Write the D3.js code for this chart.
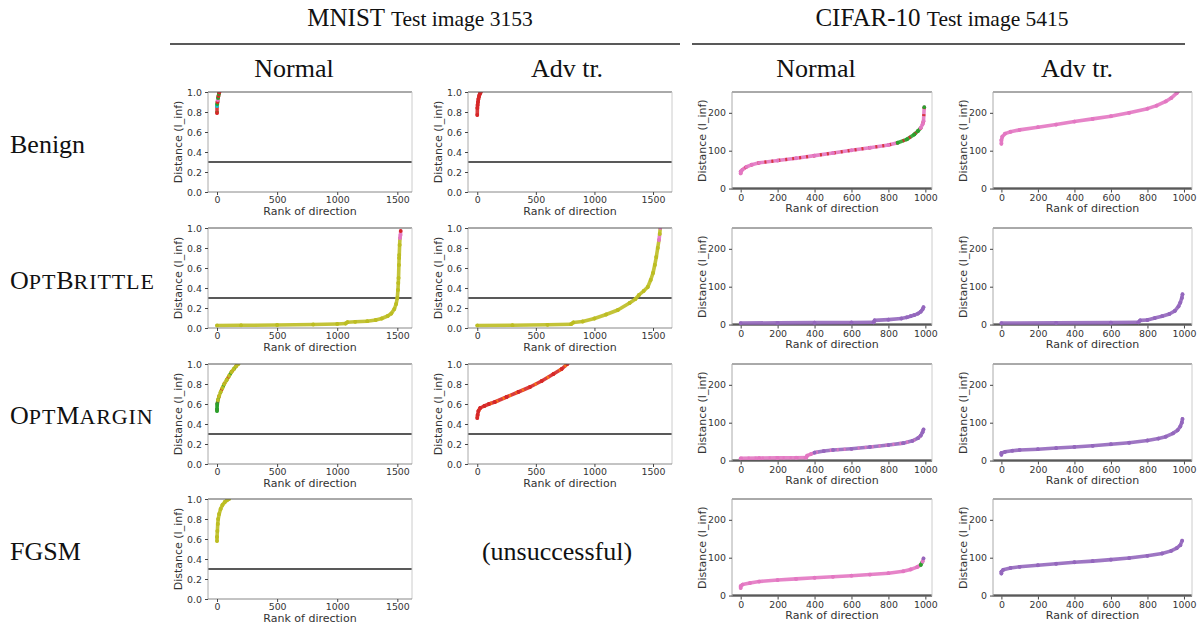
<!DOCTYPE html>
<html><head><meta charset="utf-8">
<script src="https://cdn.jsdelivr.net/npm/d3@7"></script>
<style>body{margin:0;background:#fff} svg{display:block}</style>
</head><body><svg id="c" width="1197" height="623"></svg>
<script>
// ---------- DATA ----------
const datasetNames = ["MNIST", "CIFAR-10"];
const datasetImages = ["Test image 3153", "Test image 5415"];
const trainings = ["Normal", "Adv tr."];
const attacks = ["Benign", "OptBrittle", "OptMargin", "FGSM"];
const unsuccessfulText = "(unsuccessful)";
const yLabel = "Distance (l_inf)";
const xLabel = "Rank of direction";

const mnistYTicks = [0, 0.2, 0.4, 0.6, 0.8, 1.0];
const mnistXTicks = [0, 500, 1000, 1500];
const cifarYTicks = [0, 100, 200];
const cifarXTicks = [0, 200, 400, 600, 800, 1000];
const mnistYDomain = [0, 1];
const cifarYDomain = [-2.5, 255];
const mnistNormalXDomain = [-75, 1622];
const mnistAdvXDomain = [-79, 1662];
const cifarNormalXDomain = [-47, 1036];
const cifarAdvXDomain = [-46, 1044];
const mnistThreshold = 0.3;
const cifarThreshold = 1;

// points: [rank, distance, class index (tab10)]
const mnistNormalBenign = [[0,0.79,3],[0,0.86,9],[2,0.88,2],[4,0.9,3],[6,0.92,6],[9,0.94,2],[12,0.96,3],[15,0.98,2],[18,0.995,3],[20,1.0,3]];
const mnistAdvBenign = [[0,0.77,3],[1,0.84,3],[3,0.87,3],[6,0.9,3],[10,0.93,3],[15,0.955,3],[20,0.975,3],[26,0.99,3],[30,1.0,3]];
const mnistNormalOptBrittle = [[0,0.025,8],[200,0.027,8],[500,0.03,8],[800,0.035,8],[1000,0.04,8],[1070,0.045,8],[1085,0.058,8],[1150,0.062,8],[1250,0.068,8],[1320,0.08,8],[1370,0.095,8],[1420,0.12,8],[1450,0.145,8],[1475,0.19,8],[1490,0.24,8],[1500,0.3,8],[1505,0.38,8],[1508,0.45,8],[1510,0.5,8],[1513,0.63,8],[1515,0.7,8],[1516,0.73,8],[1519,0.83,8],[1522,0.9,6],[1526,0.93,6],[1528,0.97,3]];
const mnistAdvOptBrittle = [[0,0.025,8],[300,0.028,8],[600,0.032,8],[800,0.038,8],[820,0.055,8],[900,0.065,8],[1000,0.095,8],[1100,0.135,8],[1200,0.18,8],[1300,0.25,8],[1350,0.29,8],[1380,0.33,8],[1420,0.37,8],[1455,0.41,8],[1480,0.48,8],[1500,0.55,8],[1515,0.63,8],[1528,0.71,8],[1540,0.8,8],[1551,0.88,6],[1557,0.94,8],[1562,1.0,6]];
const mnistNormalOptMargin = [[0,0.53,2],[0,0.55,2],[2,0.6,2],[8,0.64,8],[18,0.68,8],[30,0.72,8],[45,0.76,8],[60,0.8,8],[80,0.84,8],[100,0.88,8],[120,0.92,8],[140,0.95,8],[160,0.98,8],[178,1.0,8]];
const mnistAdvOptMargin = [[0,0.46,3],[3,0.49,3],[10,0.53,3],[25,0.56,3],[60,0.58,3],[100,0.6,3],[150,0.62,3],[250,0.67,3],[350,0.72,3],[450,0.77,3],[550,0.83,3],[650,0.9,3],[720,0.95,3],[770,1.0,3]];
const mnistNormalFGSM = [[0,0.58,8],[0,0.62,8],[3,0.68,8],[6,0.75,8],[10,0.8,8],[18,0.85,8],[30,0.9,8],[45,0.94,8],[65,0.97,8],[85,0.99,8],[100,1.0,8]];

const cifarNormalBenign = [[0,40,6],[0,45,6],[10,50,6],[30,57,6],[60,63,6],[100,68,6],[200,74,6],[300,80,6],[400,87,6],[500,94,6],[600,101,6],[700,108,6],[800,115,6],[850,121,2],[900,130,2],[940,143,2],[960,152,2],[975,160,6],[985,170,6],[990,178,6],[994,215,2]];
const cifarAdvBenign = [[0,118,6],[0,128,6],[5,137,6],[20,145,6],[50,150,6],[100,155,6],[200,162,6],[300,169,6],[400,177,6],[500,184,6],[600,191,6],[700,200,6],[800,211,6],[850,219,6],[900,230,6],[930,239,6],[960,252,6],[970,258,6]];
const cifarNormalOptBrittle = [[0,4,4],[200,4.5,4],[400,5,4],[600,5.5,4],[720,6,4],[725,11,4],[800,13,4],[870,16,4],[900,19,4],[920,22,4],[940,25,4],[960,29,4],[975,34,4],[985,40,4],[990,46,4]];
const cifarAdvOptBrittle = [[0,4,4],[300,4.5,4],[600,5,4],[750,6,4],[760,11,4],[800,12,4],[840,17,4],[880,22,4],[920,28,4],[950,36,4],[970,48,4],[980,58,4],[988,70,4],[992,80,4]];
const cifarNormalOptMargin = [[0,6,6],[100,6.5,6],[200,7,6],[300,7.5,6],[355,8,6],[360,13,6],[380,17,6],[400,21,4],[450,25,4],[500,28,4],[600,31,4],[700,36,4],[800,41,4],[880,46,4],[930,52,4],[960,59,4],[975,66,4],[985,75,4],[990,82,4]];
const cifarAdvOptMargin = [[0,15,4],[0,20,4],[20,23,4],[60,26,4],[100,28,4],[200,30,4],[300,33,4],[400,36,4],[500,39,4],[600,43,4],[700,47,4],[800,53,4],[860,58,4],[900,63,4],[940,72,4],[965,80,4],[980,90,4],[988,100,4],[992,110,4]];
const cifarNormalFGSM = [[0,20,6],[0,25,6],[10,29,6],[50,33,6],[100,37,6],[200,41,6],[300,44,6],[400,47,6],[500,49.5,6],[600,52.5,6],[700,55.5,6],[800,59,6],[880,64,6],[920,69,6],[955,75,6],[975,81,2],[985,90,6],[990,98,4]];
const cifarAdvFGSM = [[0,58,4],[0,63,4],[10,68,4],[50,73,4],[100,76,4],[200,80,4],[300,84,4],[400,88,4],[500,91,4],[600,95,4],[700,99,4],[800,105,4],[880,111,4],[930,118,4],[960,125,4],[980,133,4],[990,145,4]];

// second class mixed along each curve (drawn as dashed overlay)
const mnistNormalBenignMix = [2];
const mnistNormalOptMarginMix = [3, 2];
const mnistAdvOptMarginMix = [1];
const cifarNormalBenignMix = [3];
const cifarNormalOptMarginMix = [6];

// ---------- LAYOUT ----------
const svg = d3.select("#c");
const color = d3.scaleOrdinal().domain(d3.range(10)).range(d3.schemeCategory10);
const colLeft = [208, 468, 732, 993];
const colWidth = [204, 204, 200, 199];
const rowTop = [92, 228, 364, 499];
const heightMNIST = 100, heightCIFAR = 97.5;
const serif = "'Liberation Serif','Times New Roman',serif";
const sans = "'DejaVu Sans',sans-serif";

const panels = [
  {r:0,c:0,ds:0,xd:mnistNormalXDomain,data:mnistNormalBenign,mix:mnistNormalBenignMix},
  {r:0,c:1,ds:0,xd:mnistAdvXDomain,data:mnistAdvBenign,mix:[]},
  {r:0,c:2,ds:1,xd:cifarNormalXDomain,data:cifarNormalBenign,mix:cifarNormalBenignMix},
  {r:0,c:3,ds:1,xd:cifarAdvXDomain,data:cifarAdvBenign,mix:[]},
  {r:1,c:0,ds:0,xd:mnistNormalXDomain,data:mnistNormalOptBrittle,mix:[]},
  {r:1,c:1,ds:0,xd:mnistAdvXDomain,data:mnistAdvOptBrittle,mix:[]},
  {r:1,c:2,ds:1,xd:cifarNormalXDomain,data:cifarNormalOptBrittle,mix:[]},
  {r:1,c:3,ds:1,xd:cifarAdvXDomain,data:cifarAdvOptBrittle,mix:[]},
  {r:2,c:0,ds:0,xd:mnistNormalXDomain,data:mnistNormalOptMargin,mix:mnistNormalOptMarginMix},
  {r:2,c:1,ds:0,xd:mnistAdvXDomain,data:mnistAdvOptMargin,mix:mnistAdvOptMarginMix},
  {r:2,c:2,ds:1,xd:cifarNormalXDomain,data:cifarNormalOptMargin,mix:cifarNormalOptMarginMix},
  {r:2,c:3,ds:1,xd:cifarAdvXDomain,data:cifarAdvOptMargin,mix:[]},
  {r:3,c:0,ds:0,xd:mnistNormalXDomain,data:mnistNormalFGSM,mix:[]},
  {r:3,c:2,ds:1,xd:cifarNormalXDomain,data:cifarNormalFGSM,mix:[]},
  {r:3,c:3,ds:1,xd:cifarAdvXDomain,data:cifarAdvFGSM,mix:[]}
];

panels.forEach((p, i) => {
  const w = colWidth[p.c];
  const h = p.ds === 0 ? heightMNIST : heightCIFAR;
  const g = svg.append("g").attr("transform", `translate(${colLeft[p.c]},${rowTop[p.r]})`);
  const x = d3.scaleLinear().domain(p.xd).range([0, w]);
  const y = d3.scaleLinear().domain(p.ds === 0 ? mnistYDomain : cifarYDomain).range([h, 0]);
  const clipId = "clip" + i;
  g.append("clipPath").attr("id", clipId).append("rect").attr("width", w).attr("height", h);
  const plot = g.append("g").attr("clip-path", `url(#${clipId})`);

  // threshold
  const thr = p.ds === 0 ? mnistThreshold : cifarThreshold;
  plot.append("line").attr("x1", 0).attr("x2", w).attr("y1", y(thr)).attr("y2", y(thr))
    .attr("stroke", "#222").attr("stroke-width", 1.3);

  // curve segments coloured by class
  const line = d3.line().x(d => x(d[0])).y(d => y(d[1]));
  for (let k = 0; k < p.data.length - 1; k++) {
    plot.append("path").attr("d", line([p.data[k], p.data[k+1]]))
      .attr("fill", "none").attr("stroke", color(p.data[k][2]))
      .attr("stroke-width", 3.6).attr("stroke-linecap", "round").attr("opacity", 0.9);
  }
  p.mix.forEach((cls, j) => {
    plot.append("path").attr("d", line(p.data)).attr("fill", "none")
      .attr("stroke", color(cls)).attr("stroke-width", 3.2)
      .attr("stroke-dasharray", "2,5").attr("stroke-dashoffset", j * 3)
      .attr("opacity", 0.85);
  });
  plot.selectAll("circle.pt").data(p.data).join("circle").attr("class", "pt")
    .attr("cx", d => x(d[0])).attr("cy", d => y(d[1])).attr("r", 1.9)
    .attr("fill", d => color(d[2]));

  // frame
  g.append("line").attr("x1",0).attr("x2",w).attr("y1",0).attr("y2",0).attr("stroke","#555").attr("stroke-width",1);
  g.append("line").attr("x1",0).attr("x2",0).attr("y1",0).attr("y2",h).attr("stroke","#aaa").attr("stroke-width",1);
  g.append("line").attr("x1",w).attr("x2",w).attr("y1",0).attr("y2",h).attr("stroke","#ccc").attr("stroke-width",1);
  g.append("line").attr("x1",0).attr("x2",w).attr("y1",h).attr("y2",h).attr("stroke","#888").attr("stroke-width",1);

  // axes
  const ya = d3.axisLeft(y).tickValues(p.ds === 0 ? mnistYTicks : cifarYTicks)
    .tickFormat(p.ds === 0 ? d3.format(".1f") : d3.format("d")).tickSize(3).tickPadding(3);
  const xa = d3.axisBottom(x).tickValues(p.ds === 0 ? mnistXTicks : cifarXTicks)
    .tickFormat(d3.format("d")).tickSize(3).tickPadding(1.5);
  const yg = g.append("g").call(ya);
  const xg = g.append("g").attr("transform", `translate(0,${h})`).call(xa);
  [yg, xg].forEach(a => {
    a.select(".domain").remove();
    a.selectAll("line").attr("stroke", "#444");
    a.selectAll("text").attr("font-family", sans).attr("font-size", 9.4).attr("fill", "#333");
  });

  g.append("text").attr("transform", `translate(${-30},${h/2}) rotate(-90)`)
    .attr("text-anchor", "middle").attr("dominant-baseline", "central")
    .attr("font-family", sans).attr("font-size", 11).attr("fill", "#333").text(yLabel);
  g.append("text").attr("x", w/2).attr("y", h + 22.5).attr("text-anchor", "middle")
    .attr("font-family", sans).attr("font-size", 11).attr("fill", "#333").text(xLabel);
});

// ---------- HEADERS ----------
const groupSpans = [[170, 680], [692, 1185]];
const groupCenters = [420, 942];
groupSpans.forEach((s, i) => {
  svg.append("line").attr("x1", s[0]).attr("x2", s[1]).attr("y1", 44).attr("y2", 44)
    .attr("stroke", "#222").attr("stroke-width", 1.3);
  const t = svg.append("text").attr("x", groupCenters[i]).attr("y", 26)
    .attr("text-anchor", "middle").attr("font-family", serif).attr("fill", "#111");
  t.append("tspan").attr("font-size", 25).text(datasetNames[i] + " ");
  t.append("tspan").attr("font-size", 21.5).text(datasetImages[i]);
});
const colCenters = [294, 567, 816, 1077];
colCenters.forEach((cx, i) => {
  svg.append("text").attr("x", cx).attr("y", 77).attr("text-anchor", "middle")
    .attr("font-family", serif).attr("font-size", 26).attr("fill", "#111").text(trainings[i % 2]);
});

// row labels (small caps for attack names)
const rowBaselines = [153, 289, 424, 560];
attacks.forEach((a, i) => {
  const t = svg.append("text").attr("x", 10).attr("y", rowBaselines[i])
    .attr("font-family", serif).attr("fill", "#111");
  if (i === 0 || i === 3) {
    t.attr("font-size", 26).text(a);
  } else {
    const parts = a.match(/[A-Z][a-z]*/g);
    parts.forEach(pt => {
      t.append("tspan").attr("font-size", 26).text(pt[0]);
      t.append("tspan").attr("font-size", 22).attr("letter-spacing", 0.9).text(pt.slice(1).toUpperCase());
    });
  }
});
svg.append("text").attr("x", 557).attr("y", 560).attr("text-anchor", "middle")
  .attr("font-family", serif).attr("font-size", 26).attr("fill", "#111").text(unsuccessfulText);
</script>
</body></html>
